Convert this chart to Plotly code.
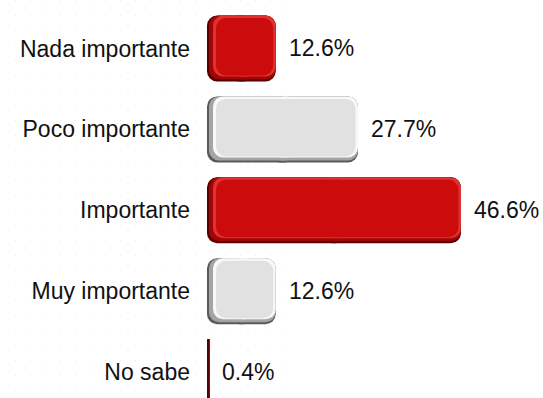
import plotly.graph_objects as go

# ---- data ----
categories = ["Nada importante", "Poco importante", "Importante", "Muy importante", "No sabe"]
values = [12.6, 27.7, 46.6, 12.6, 0.4]
labels = ["12.6%", "27.7%", "46.6%", "12.6%", "0.4%"]
palette = ["red", "gray", "red", "gray", "red"]

# ---- styling ----
W, H = 543, 398
PLOT_LEFT = 207
PX_PER_UNIT = 5.45          # pixels per percentage point
CAT_PX = 80.9               # pixels per category
BAR_PX = 66                 # bar thickness in px
RADIUS = 10
FONT = "Arial, Liberation Sans, sans-serif"

shades = {
    "red":  ["#5a0000", "#a00606", "#dc3232", "#cc0c0c"],
    "gray": ["#5a5a5a", "#a4a4a4", "#f8f8f8", "#e1e1e1"],
}
# insets (left, top, bottom, right) in px for each layer
insets = [(0, 0, 0, 0), (2, 0, 2, 0), (6, 0, 5, 0), (9, 2.5, 6, 2.5)]

fig = go.Figure()

# faint dotted background (decorative) on subplot x/y, drawn below bars
fig.add_trace(go.Scatter(x=[0], y=[0], mode="markers", marker=dict(opacity=0),
                         xaxis="x", yaxis="y", showlegend=False, hoverinfo="skip"))

overlap = (RADIUS + 2) / PX_PER_UNIT
for li, (l, t, b, r) in enumerate(insets):
    for side in ("left", "right"):
        xs, bases, cols = [], [], []
        for v, p in zip(values, palette):
            start = l / PX_PER_UNIT
            end = v - r / PX_PER_UNIT
            cols.append(shades[p][li])
            if end <= start:
                xs.append(None); bases.append(0)
                continue
            mid = (start + end) / 2
            if side == "left":
                hi = min(mid + overlap, end)
                bases.append(hi); xs.append(start - hi)
            else:
                lo = max(mid - overlap, start)
                bases.append(lo); xs.append(end - lo)
        fig.add_trace(go.Bar(
            y=categories, x=xs, base=bases, orientation="h",
            width=(BAR_PX - t - b) / CAT_PX,
            offset=(-BAR_PX / 2 + t) / CAT_PX,
            marker=dict(color=cols, line=dict(width=0)),
            xaxis="x2", yaxis="y2", showlegend=False, hoverinfo="skip",
        ))

for c, v, s in zip(categories, values, labels):
    fig.add_annotation(x=v, y=c, xref="x2", yref="y2", text=s, showarrow=False,
                       xanchor="left", xshift=11, font=dict(family=FONT, size=23, color="#111111"))

x_max = (W - PLOT_LEFT) / PX_PER_UNIT
top_px = 48.5 - CAT_PX / 2
y_bottom = -0.5 + (H - top_px) / CAT_PX

fig.update_layout(
    width=W, height=H,
    margin=dict(l=0, r=0, t=0, b=0),
    paper_bgcolor="white", plot_bgcolor="rgba(0,0,0,0)",
    barmode="overlay", barcornerradius=RADIUS,
    font=dict(family=FONT, size=23, color="#111111"),
    xaxis=dict(domain=[0, 300 / W], range=[0, 300], dtick=15, tick0=0,
               showgrid=True, gridcolor="#e9e9e9", griddash="1px,14px", gridwidth=1,
               showticklabels=False, zeroline=False, showline=False, fixedrange=True),
    yaxis=dict(domain=[0, 1], range=[0, 1], showgrid=False, showticklabels=False,
               zeroline=False, showline=False, fixedrange=True),
    xaxis2=dict(domain=[PLOT_LEFT / W, 1], range=[0, x_max], anchor="y2",
                showgrid=False, showticklabels=False, zeroline=False, showline=False,
                fixedrange=True),
    yaxis2=dict(domain=[0, 1 - top_px / H], anchor="x2", type="category",
                categoryorder="array", categoryarray=categories,
                range=[y_bottom, -0.5], showgrid=False, zeroline=False, showline=False,
                ticks="", ticklabelstandoff=16,
                tickfont=dict(family=FONT, size=23, color="#111111"), fixedrange=True),
)

fig.write_html("out.html")
